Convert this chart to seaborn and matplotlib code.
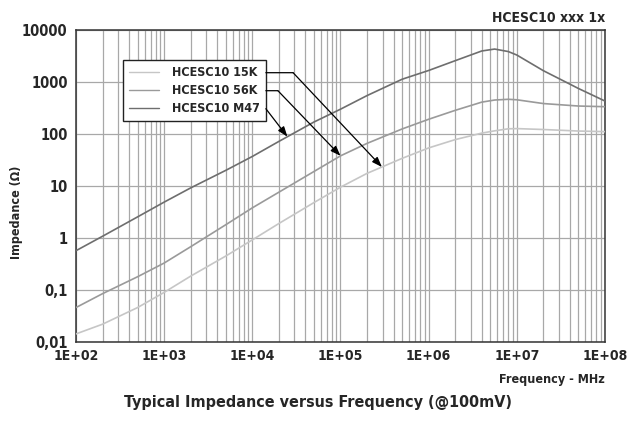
import numpy as np
import pandas as pd
import matplotlib
matplotlib.use("Agg")
import matplotlib.pyplot as plt
import matplotlib.ticker as mticker
import seaborn as sns

# frequency points (Hz) and impedance (ohm)
freq = [1e2, 2e2, 5e2, 1e3, 2e3, 5e3, 1e4, 2e4, 5e4, 1e5, 2e5, 5e5,
        1e6, 2e6, 4e6, 5.6e6, 8e6, 1e7, 2e7, 5e7, 1e8]
z_15k = [0.0143, 0.022, 0.046, 0.09, 0.185, 0.45, 0.92, 1.9, 4.8, 9.5, 17.5, 34,
         54, 78, 104, 115, 126, 127, 122, 114, 111]
z_56k = [0.046, 0.085, 0.18, 0.33, 0.68, 1.8, 3.8, 7.6, 19, 38, 66, 125,
         192, 285, 410, 450, 465, 455, 385, 345, 335]
z_m47 = [0.57, 1.08, 2.55, 4.9, 9.2, 20, 37, 72, 170, 300, 548, 1130,
         1666, 2570, 3950, 4300, 3850, 3300, 1650, 750, 430]

series = ["HCESC10 15K", "HCESC10 56K", "HCESC10 M47"]
colors = ["#c6c6c6", "#9a9a9a", "#6e6e6e"]

x_ticks = [1e2, 1e3, 1e4, 1e5, 1e6, 1e7, 1e8]
x_labels = ["1E+02", "1E+03", "1E+04", "1E+05", "1E+06", "1E+07", "1E+08"]
y_ticks = [0.01, 0.1, 1, 10, 100, 1000, 10000]
y_labels = ["0,01", "0,1", "1", "10", "100", "1000", "10000"]

# arrow targets: frequency where each arrow lands on its curve, plus bend x
arrow_target_f = [2.95e5, 1.0e5, 2.5e4]
arrow_bend_f = [2.9e4, 1.95e4, None]

df = pd.DataFrame({
    "Frequency": np.tile(freq, 3),
    "Impedance": z_15k + z_56k + z_m47,
    "series": np.repeat(series, len(freq)),
})

sns.set_style("white")
plt.rcParams["font.family"] = ["DejaVu Sans"]
plt.rcParams["font.stretch"] = "condensed"

fig = plt.figure(figsize=(6.27, 4.22), dpi=100)
ax = fig.add_axes([76 / 627, 1 - 342 / 422, 529 / 627, 312 / 422])

sns.lineplot(data=df, x="Frequency", y="Impedance", hue="series",
             hue_order=series, palette=colors, estimator=None, ax=ax,
             linewidth=1.2, zorder=3)
ax.set(xscale="log", yscale="log")
ax.set_xlim(1e2, 1e8)
ax.set_ylim(0.01, 10000)

ax.set_xticks(x_ticks, labels=x_labels)
ax.set_yticks(y_ticks, labels=y_labels)
ax.xaxis.set_minor_locator(mticker.LogLocator(base=10, subs=np.arange(2, 10)))
ax.xaxis.set_minor_formatter(mticker.NullFormatter())
ax.yaxis.set_minor_locator(mticker.NullLocator())
ax.tick_params(which="both", length=0)
ax.tick_params(axis="x", pad=5, labelsize=10)
ax.tick_params(axis="y", pad=6, labelsize=10.5)
for lab in ax.get_xticklabels() + ax.get_yticklabels():
    lab.set_fontweight("bold")

ax.xaxis.grid(True, which="both", color="#a8a8a8", linewidth=0.9)
ax.yaxis.grid(True, which="major", color="#a8a8a8", linewidth=0.9)
for sp in ax.spines.values():
    sp.set_visible(True)
    sp.set_color("#333333")
    sp.set_linewidth(1.1)

ax.set_xlabel("")
ax.set_ylabel("")
fig.text(605 / 627, 1 - 379 / 422, "Frequency - MHz", ha="right", va="center",
         fontsize=9, fontweight="bold")
fig.text(17 / 627, 1 - 212 / 422, "Impedance (Ω)", ha="center", va="center",
         rotation=90, fontsize=9, fontweight="bold")
fig.text(605 / 627, 1 - 18 / 422, "HCESC10 xxx 1x", ha="right", va="center",
         fontsize=10, fontweight="bold")
fig.text(318 / 627, 1 - 402 / 422, "Typical Impedance versus Frequency (@100mV)",
         ha="center", va="center", fontsize=11.5, fontweight="bold")

leg = ax.legend(loc="upper left", bbox_to_anchor=(0.0888, 0.904),
                borderaxespad=0, fancybox=False, frameon=True,
                edgecolor="#222222", framealpha=1, prop={"weight": "bold", "size": 9},
                handlelength=2.4, handletextpad=1.0, labelspacing=0.4,
                borderpad=0.5)
leg.get_frame().set_linewidth(1.0)
leg.set_zorder(5)
for h in leg.get_lines():
    h.set_linewidth(1.0)

# arrows from the legend to each curve
fig.canvas.draw()
inv = ax.transData.inverted()
right_px = leg.get_window_extent().x1
curves = [z_15k, z_56k, z_m47]
for txt, zs, tf, bf in zip(leg.get_texts(), curves, arrow_target_f, arrow_bend_f):
    bb = txt.get_window_extent()
    x0, y0 = inv.transform((right_px, (bb.y0 + bb.y1) / 2))
    tz = 10 ** np.interp(np.log10(tf), np.log10(freq), np.log10(zs))
    if bf is not None:
        ax.annotate("", xy=(bf, y0), xytext=(x0, y0),
                    arrowprops=dict(arrowstyle="-", color="black", lw=0.9,
                                    shrinkA=0, shrinkB=0), zorder=6)
        start = (bf, y0)
    else:
        start = (x0, y0)
    ax.annotate("", xy=(tf, tz), xytext=start,
                arrowprops=dict(arrowstyle="-|>,head_length=0.6,head_width=0.22",
                                color="black", lw=0.9, shrinkA=0, shrinkB=0),
                zorder=6)

fig.savefig("out.png", dpi=100)
